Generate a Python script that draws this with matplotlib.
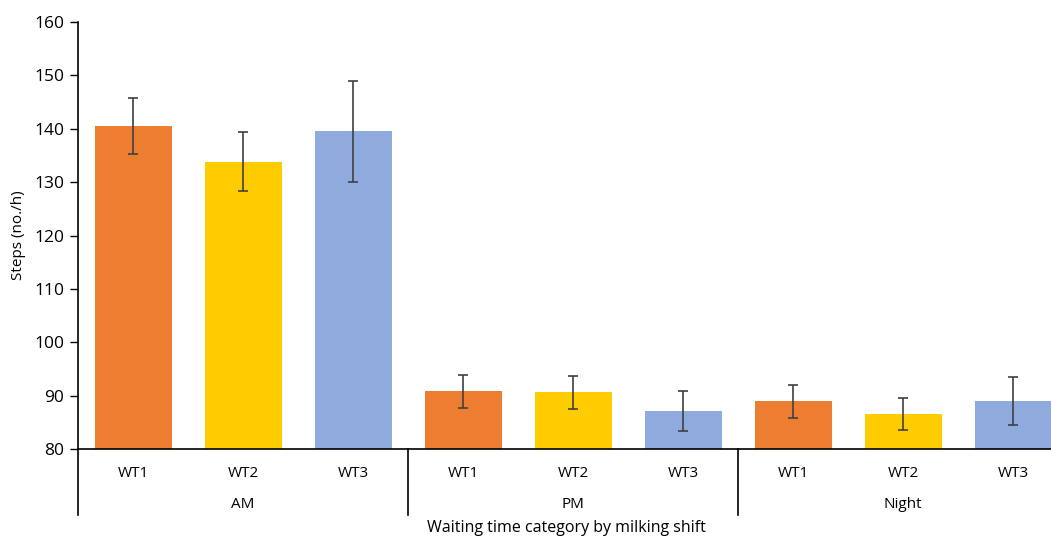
import numpy as np
import matplotlib.pyplot as plt
import matplotlib.transforms as mtransforms

plt.rcParams['font.family'] = ['Open Sans', 'DejaVu Sans']

shifts = ['AM', 'PM', 'Night']
categories = ['WT1', 'WT2', 'WT3']
steps = [140.5, 133.8, 139.5,
         90.8, 90.6, 87.1,
         88.9, 86.6, 89.0]
errors = [5.3, 5.5, 9.4,
          3.1, 3.15, 3.75,
          3.1, 3.0, 4.5]
colors = ['#ED7D31', '#FFCC00', '#8FAADC']


def main():
    fig = plt.figure(figsize=(10.51, 5.39), dpi=100)
    ax = fig.add_axes([78 / 1051, 1 - 449 / 539, 990 / 1051, 427 / 539])

    n = len(shifts) * len(categories)
    x = np.arange(n)
    barColors = [colors[i % len(categories)] for i in range(n)]
    ax.bar(x, np.array(steps) - 80, bottom=80, width=0.7, color=barColors,
           zorder=2)
    ax.errorbar(x, steps, yerr=errors, fmt='none', ecolor='#404040',
                elinewidth=1.2, capsize=3.5, capthick=1.2, zorder=3)

    ax.set_xlim(-0.5, n - 0.5)
    ax.set_ylim(80, 160)
    ax.set_yticks(range(80, 161, 10))
    ax.set_yticklabels([str(v) for v in range(80, 161, 10)], fontsize=12.5)
    ax.tick_params(axis='y', length=6, width=1, pad=4)
    ax.set_xticks(x)
    ax.set_xticklabels(categories * len(shifts), fontsize=11)
    ax.tick_params(axis='x', length=0, pad=12)

    for side in ['top', 'right']:
        ax.spines[side].set_visible(False)
    ax.spines['left'].set_linewidth(1.2)
    ax.spines['bottom'].set_linewidth(1.2)

    # group separators and shift labels below the axis
    trans = mtransforms.blended_transform_factory(ax.transData, ax.transAxes)
    depth = -(515 - 449) / 427
    for g in range(len(shifts) + 1):
        xs = g * len(categories) - 0.5
        ax.plot([xs, xs], [0, depth], color='black', lw=1.2,
                transform=trans, clip_on=False)
    for g, s in enumerate(shifts):
        xc = g * len(categories) + 1
        ax.text(xc, -(505 - 449) / 427, s, transform=trans, ha='center',
                va='center', fontsize=11)

    ax.set_ylabel('Steps (no./h)', fontsize=11, labelpad=6)
    fig.text(566 / 1051, 1 - 528 / 539, 'Waiting time category by milking shift',
             ha='center', va='center', fontsize=11.5)

    fig.savefig('out.png', dpi=100)
    plt.close()


if __name__ == '__main__':
    main()
